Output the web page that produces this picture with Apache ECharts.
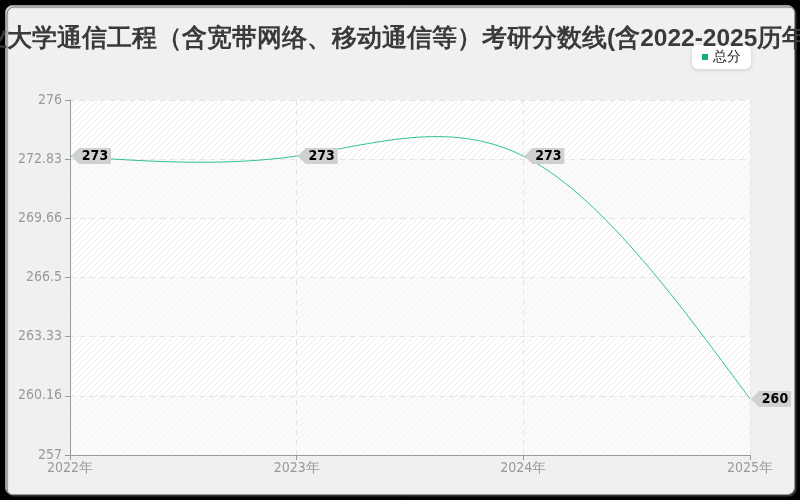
<!DOCTYPE html>
<html><head><meta charset="utf-8">
<script src="https://cdn.jsdelivr.net/npm/echarts@6/dist/echarts.min.js"></script>
<style>html,body{margin:0;padding:0;background:#000;}#c{width:800px;height:500px;}</style>
</head><body><div id="c"></div>
<script>
var titleText = '北京工业大学通信工程（含宽带网络、移动通信等）考研分数线(含2022-2025历年复试)';
var seriesName = '总分';
var categories = ['2022年', '2023年', '2024年', '2025年'];
var scores = [273, 273, 273, 260];
var yMin = 257, yMax = 276, ySteps = 6;

var lineColor = '#33c199';
var labelFont = 'DejaVu Sans Condensed, DejaVu Sans, sans-serif';

function makePattern(bg, line) {
  var c = document.createElement('canvas');
  c.width = 6; c.height = 6;
  var g = c.getContext('2d');
  g.fillStyle = bg; g.fillRect(0, 0, 6, 6);
  g.strokeStyle = line; g.lineWidth = 1;
  g.beginPath();
  g.moveTo(0, 6); g.lineTo(6, 0);
  g.moveTo(-1, 1); g.lineTo(1, -1);
  g.moveTo(5, 7); g.lineTo(7, 5);
  g.stroke();
  return { image: c, repeat: 'repeat' };
}

// natural cubic spline through pixel points -> bezier path
function splinePath(pts) {
  var n = pts.length;
  if (n < 2) return '';
  var h = [], i;
  for (i = 0; i < n - 1; i++) h.push(pts[i + 1][0] - pts[i][0]);
  var M = new Array(n).fill(0);
  if (n > 2) {
    var a = [], b = [], c = [], d = [];
    for (i = 1; i < n - 1; i++) {
      a.push(h[i - 1]); b.push(2 * (h[i - 1] + h[i])); c.push(h[i]);
      d.push(6 * ((pts[i + 1][1] - pts[i][1]) / h[i] - (pts[i][1] - pts[i - 1][1]) / h[i - 1]));
    }
    var m = b.length;
    for (i = 1; i < m; i++) {
      var w = a[i] / b[i - 1];
      b[i] -= w * c[i - 1]; d[i] -= w * d[i - 1];
    }
    var sol = new Array(m);
    sol[m - 1] = d[m - 1] / b[m - 1];
    for (i = m - 2; i >= 0; i--) sol[i] = (d[i] - c[i] * sol[i + 1]) / b[i];
    for (i = 0; i < m; i++) M[i + 1] = sol[i];
  }
  var der = [];
  for (i = 0; i < n - 1; i++) der.push((pts[i + 1][1] - pts[i][1]) / h[i] - h[i] * (2 * M[i] + M[i + 1]) / 6);
  der.push((pts[n - 1][1] - pts[n - 2][1]) / h[n - 2] + h[n - 2] * (M[n - 2] + 2 * M[n - 1]) / 6);
  var p = 'M' + pts[0][0] + ',' + pts[0][1];
  for (i = 0; i < n - 1; i++) {
    var t = h[i] / 3;
    p += ' C' + (pts[i][0] + t) + ',' + (pts[i][1] + der[i] * t) + ' ' +
      (pts[i + 1][0] - t) + ',' + (pts[i + 1][1] - der[i + 1] * t) + ' ' +
      pts[i + 1][0] + ',' + pts[i + 1][1];
  }
  return p;
}

var titleSize = 24.5;
var mc = document.createElement('canvas').getContext('2d');
mc.font = 'bold ' + titleSize + 'px sans-serif';
var titleW = mc.measureText(titleText).width;
var titleLeft = Math.round((800 - titleW) / 2 - 19);

var chart = echarts.init(document.getElementById('c'));
var tagPath = 'path://M0,8 L8,0 L40,0 L40,16 L8,16 Z';
chart.setOption({
  backgroundColor: '#000',
  graphic: [{
    type: 'rect', z: -10, silent: true,
    shape: { x: 5.5, y: 5.5, width: 789, height: 489, r: 7 },
    style: { fill: '#f0f0f0', stroke: '#9a9a9a', lineWidth: 1, shadowColor: 'rgba(60,60,60,0.9)', shadowOffsetX: 1.5, shadowOffsetY: 1.5, shadowBlur: 1 }
  }],
  title: {
    text: titleText, left: titleLeft, top: 22,
    textStyle: { fontSize: titleSize, fontWeight: 'bold', color: '#3a3a3a' }
  },
  legend: {
    data: [seriesName], right: 49, top: 45,
    backgroundColor: '#fff', borderRadius: 6, padding: [5, 10],
    shadowColor: 'rgba(0,0,0,0.15)', shadowBlur: 4, shadowOffsetY: 1,
    icon: 'rect', itemWidth: 6, itemHeight: 6, itemGap: 6,
    textStyle: { fontSize: 14, color: '#222' }
  },
  grid: { left: 70, right: 50, top: 100, bottom: 45 },
  xAxis: {
    type: 'category', data: categories, boundaryGap: false,
    axisLine: { lineStyle: { color: '#999' } },
    axisTick: { show: true, lineStyle: { color: '#999' } },
    axisLabel: { color: '#999', fontSize: 14, margin: 6, fontFamily: labelFont },
    splitLine: { show: true, lineStyle: { color: '#e3e3e3', type: [5, 5] } }
  },
  yAxis: {
    type: 'value', min: yMin, max: yMax, interval: (yMax - yMin) / ySteps,
    axisLine: { show: true, lineStyle: { color: '#999' } },
    axisTick: { show: true, lineStyle: { color: '#999' } },
    axisLabel: {
      color: '#999', fontSize: 14, margin: 8, fontFamily: labelFont,
      formatter: function (v) { return String(Math.floor(v * 100 + 1e-6) / 100); }
    },
    splitLine: { show: true, lineStyle: { color: '#e3e3e3', type: [5, 5] } },
    splitArea: { show: true, areaStyle: { color: [makePattern('#fbfbfb', '#f1f1f1'), makePattern('#ffffff', '#ececec')] } }
  },
  series: [{
    name: seriesName, type: 'custom',
    data: scores.map(function (v, i) { return [i, v]; }),
    encode: { x: 0, y: 1 },
    itemStyle: { color: '#12b07c' },
    renderItem: function (params, api) {
      if (params.dataIndex !== 0) return null;
      var pts = scores.map(function (v, i) { return api.coord([i, v]); });
      return {
        type: 'path',
        shape: { pathData: splinePath(pts) },
        style: { fill: 'none', stroke: lineColor, lineWidth: 1 }
      };
    },
    markPoint: {
      symbol: tagPath, symbolSize: [40, 16], symbolOffset: [21, 0],
      itemStyle: { color: '#d0d0d0' },
      label: { show: true, color: '#000', fontSize: 14, fontWeight: 'bold', offset: [4, 0], fontFamily: labelFont,
        formatter: function (p) { return p.value; } },
      data: scores.map(function (v, i) { return { coord: [i, v], value: v }; })
    }
  }]
});
</script></body></html>
